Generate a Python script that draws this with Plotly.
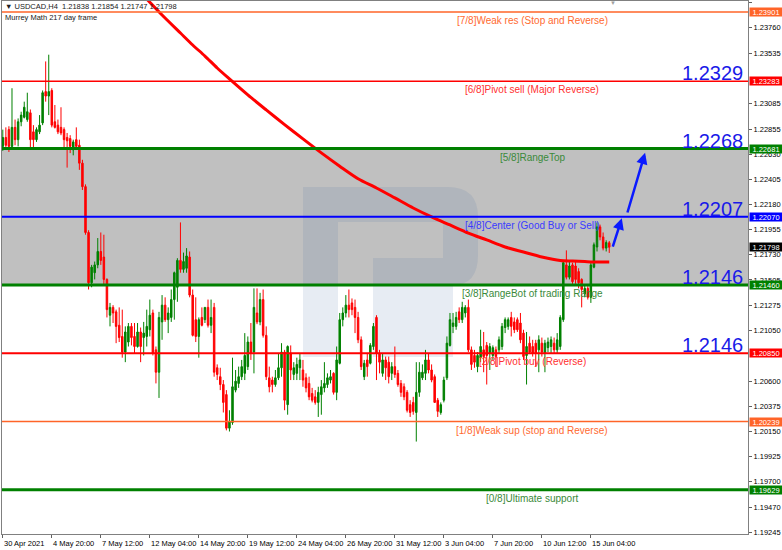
import plotly.graph_objects as go

# ---------------- data ----------------
bar_index = list(range(199))

open_ = [1.2270, 1.2278, 1.2285, 1.2270, 1.2287, 1.2276, 1.2292, 1.2296, 1.2294, 1.2300,
         1.2283, 1.2276, 1.2283, 1.2291, 1.2319, 1.2315, 1.2320, 1.2292, 1.2289, 1.2287,
         1.2285, 1.2278, 1.2277, 1.2267, 1.2276, 1.2271, 1.2255, 1.2234, 1.2193, 1.2148,
         1.2157, 1.2164, 1.2176, 1.2171, 1.2151, 1.2119, 1.2126, 1.2122, 1.2110, 1.2100,
         1.2086, 1.2095, 1.2109, 1.2100, 1.2091, 1.2104, 1.2099, 1.2100, 1.2106, 1.2121,
         1.2088, 1.2068, 1.2113, 1.2128, 1.2115, 1.2117, 1.2133, 1.2144, 1.2168, 1.2160,
         1.2161, 1.2171, 1.2137, 1.2115, 1.2100, 1.2117, 1.2115, 1.2126, 1.2110, 1.2126,
         1.2072, 1.2064, 1.2057, 1.2048, 1.2018, 1.2023, 1.2052, 1.2058, 1.2064, 1.2067,
         1.2073, 1.2095, 1.2086, 1.2121, 1.2113, 1.2133, 1.2101, 1.2063, 1.2061, 1.2057,
         1.2063, 1.2072, 1.2086, 1.2039, 1.2085, 1.2066, 1.2067, 1.2072, 1.2070, 1.2063,
         1.2058, 1.2049, 1.2046, 1.2041, 1.2048, 1.2054, 1.2057, 1.2061, 1.2067, 1.2050,
         1.2076, 1.2115, 1.2121, 1.2128, 1.2130, 1.2126, 1.2117, 1.2097, 1.2064, 1.2079,
         1.2076, 1.2091, 1.2117, 1.2085, 1.2067, 1.2079, 1.2077, 1.2067, 1.2073, 1.2067,
         1.2058, 1.2055, 1.2050, 1.2039, 1.2041, 1.2032, 1.2050, 1.2063, 1.2067, 1.2079,
         1.2070, 1.2064, 1.2043, 1.2032, 1.2043, 1.2063, 1.2092, 1.2109, 1.2109, 1.2122,
         1.2115, 1.2121, 1.2126, 1.2088, 1.2083, 1.2073, 1.2081, 1.2088, 1.2092, 1.2085,
         1.2083, 1.2088, 1.2088, 1.2091, 1.2108, 1.2109, 1.2117, 1.2113, 1.2115, 1.2112,
         1.2103, 1.2083, 1.2094, 1.2091, 1.2094, 1.2088, 1.2094, 1.2085, 1.2090, 1.2091,
         1.2094, 1.2088, 1.2091, 1.2115, 1.2164, 1.2153, 1.2164, 1.2163, 1.2158, 1.2151,
         1.2138, 1.2143, 1.2135, 1.2162, 1.2180, 1.2198, 1.2189, 1.2179, 1.21838]

high = [1.2285, 1.2287, 1.2288, 1.2322, 1.2294, 1.2295, 1.2301, 1.2310, 1.2318, 1.2303,
        1.2289, 1.2287, 1.2298, 1.2320, 1.2346, 1.2352, 1.2322, 1.2307, 1.2294, 1.2305,
        1.2287, 1.2282, 1.2280, 1.2276, 1.2287, 1.2276, 1.2258, 1.2236, 1.2195, 1.2164,
        1.2167, 1.2188, 1.2193, 1.2191, 1.2152, 1.2130, 1.2128, 1.2124, 1.2126, 1.2124,
        1.2109, 1.2112, 1.2112, 1.2112, 1.2112, 1.2108, 1.2113, 1.2124, 1.2133, 1.2124,
        1.2091, 1.2122, 1.2137, 1.2135, 1.2126, 1.2142, 1.2158, 1.2170, 1.2202, 1.2175,
        1.2179, 1.2176, 1.2142, 1.2135, 1.2117, 1.2126, 1.2126, 1.2133, 1.2133, 1.2130,
        1.2075, 1.2072, 1.2061, 1.2052, 1.2034, 1.2081, 1.2070, 1.2073, 1.2079, 1.2103,
        1.2100, 1.2112, 1.2143, 1.2143, 1.2139, 1.2142, 1.2109, 1.2073, 1.2064, 1.2070,
        1.2085, 1.2094, 1.2088, 1.2092, 1.2092, 1.2077, 1.2081, 1.2085, 1.2079, 1.2067,
        1.2064, 1.2054, 1.2052, 1.2055, 1.2061, 1.2077, 1.2067, 1.2070, 1.2068, 1.2091,
        1.2121, 1.2126, 1.2137, 1.2142, 1.2134, 1.2133, 1.2122, 1.2100, 1.2079, 1.2085,
        1.2094, 1.2112, 1.2119, 1.2088, 1.2085, 1.2082, 1.2082, 1.2077, 1.2091, 1.2070,
        1.2061, 1.2058, 1.2052, 1.2043, 1.2046, 1.2077, 1.2077, 1.2075, 1.2088, 1.2085,
        1.2075, 1.2066, 1.2045, 1.2041, 1.2064, 1.2100, 1.2121, 1.2121, 1.2122, 1.2126,
        1.2131, 1.2128, 1.2133, 1.2091, 1.2088, 1.2086, 1.2106, 1.2104, 1.2095, 1.2094,
        1.2092, 1.2091, 1.2100, 1.2112, 1.2117, 1.2117, 1.2122, 1.2117, 1.2117, 1.2121,
        1.2106, 1.2104, 1.2100, 1.2097, 1.2097, 1.2101, 1.2099, 1.2097, 1.2099, 1.2100,
        1.2099, 1.2103, 1.2119, 1.2167, 1.2177, 1.2167, 1.2166, 1.2167, 1.2161, 1.2152,
        1.2146, 1.2145, 1.2166, 1.2184, 1.2202, 1.2200, 1.2193, 1.2186, 1.21854]

low = [1.2266, 1.2267, 1.2265, 1.2268, 1.2271, 1.2270, 1.2288, 1.2295, 1.2292, 1.2267,
       1.2267, 1.2274, 1.2281, 1.2289, 1.2310, 1.2298, 1.2287, 1.2286, 1.2281, 1.2280,
       1.2267, 1.2251, 1.2264, 1.2262, 1.2267, 1.2249, 1.2231, 1.2191, 1.2142, 1.2144,
       1.2151, 1.2161, 1.2164, 1.2146, 1.2117, 1.2109, 1.2112, 1.2094, 1.2095, 1.2081,
       1.2077, 1.2091, 1.2092, 1.2085, 1.2090, 1.2077, 1.2083, 1.2091, 1.2100, 1.2083,
       1.2058, 1.2045, 1.2097, 1.2113, 1.2103, 1.2113, 1.2115, 1.2131, 1.2157, 1.2157,
       1.2157, 1.2135, 1.2100, 1.2095, 1.2081, 1.2109, 1.2112, 1.2108, 1.2103, 1.2064,
       1.2061, 1.2052, 1.2032, 1.2016, 1.2015, 1.2021, 1.2050, 1.2054, 1.2061, 1.2061,
       1.2070, 1.2079, 1.2067, 1.2111, 1.2110, 1.2099, 1.2061, 1.2050, 1.2050, 1.2055,
       1.2061, 1.2064, 1.2034, 1.2030, 1.2061, 1.2061, 1.2061, 1.2061, 1.2055, 1.2050,
       1.2043, 1.2041, 1.2039, 1.2028, 1.2030, 1.2050, 1.2054, 1.2058, 1.2048, 1.2043,
       1.2075, 1.2109, 1.2117, 1.2117, 1.2119, 1.2103, 1.2094, 1.2070, 1.2061, 1.2064,
       1.2075, 1.2088, 1.2061, 1.2067, 1.2064, 1.2061, 1.2058, 1.2061, 1.2063, 1.2055,
       1.2046, 1.2043, 1.2032, 1.2028, 1.2030, 1.2006, 1.2046, 1.2061, 1.2061, 1.2067,
       1.2059, 1.2041, 1.2028, 1.2030, 1.2041, 1.2061, 1.2091, 1.2103, 1.2106, 1.2112,
       1.2112, 1.2117, 1.2086, 1.2070, 1.2072, 1.2068, 1.2077, 1.2068, 1.2057, 1.2070,
       1.2079, 1.2073, 1.2085, 1.2088, 1.2103, 1.2106, 1.2100, 1.2103, 1.2104, 1.2094,
       1.2079, 1.2057, 1.2085, 1.2082, 1.2073, 1.2068, 1.2082, 1.2068, 1.2086, 1.2085,
       1.2085, 1.2085, 1.2088, 1.2113, 1.2151, 1.2151, 1.2147, 1.2147, 1.2143, 1.2126,
       1.2135, 1.2133, 1.2130, 1.2161, 1.2176, 1.2186, 1.2177, 1.2176, 1.21747]

close = [1.2278, 1.2271, 1.2270, 1.2287, 1.2276, 1.2292, 1.2298, 1.2305, 1.2301, 1.2276,
         1.2276, 1.2285, 1.2289, 1.2318, 1.2315, 1.2319, 1.2289, 1.2287, 1.2283, 1.2282,
         1.2276, 1.2275, 1.2270, 1.2274, 1.2270, 1.2255, 1.2234, 1.2193, 1.2148, 1.2162,
         1.2164, 1.2176, 1.2168, 1.2151, 1.2124, 1.2126, 1.2121, 1.2109, 1.2099, 1.2086,
         1.2104, 1.2109, 1.2099, 1.2091, 1.2104, 1.2091, 1.2103, 1.2109, 1.2119, 1.2085,
         1.2068, 1.2117, 1.2128, 1.2115, 1.2121, 1.2133, 1.2157, 1.2168, 1.2160, 1.2167,
         1.2172, 1.2137, 1.2101, 1.2100, 1.2115, 1.2110, 1.2126, 1.2110, 1.2117, 1.2068,
         1.2066, 1.2057, 1.2041, 1.2018, 1.2024, 1.2055, 1.2060, 1.2064, 1.2073, 1.2083,
         1.2095, 1.2085, 1.2126, 1.2113, 1.2133, 1.2101, 1.2064, 1.2055, 1.2057, 1.2063,
         1.2072, 1.2086, 1.2043, 1.2091, 1.2070, 1.2072, 1.2075, 1.2079, 1.2061, 1.2054,
         1.2046, 1.2043, 1.2041, 1.2050, 1.2055, 1.2058, 1.2063, 1.2064, 1.2050, 1.2079,
         1.2115, 1.2121, 1.2128, 1.2124, 1.2124, 1.2117, 1.2097, 1.2073, 1.2076, 1.2073,
         1.2092, 1.2109, 1.2085, 1.2077, 1.2079, 1.2072, 1.2064, 1.2073, 1.2066, 1.2057,
         1.2050, 1.2046, 1.2034, 1.2032, 1.2033, 1.2050, 1.2068, 1.2068, 1.2079, 1.2070,
         1.2061, 1.2041, 1.2033, 1.2039, 1.2061, 1.2094, 1.2115, 1.2112, 1.2117, 1.2115,
         1.2126, 1.2126, 1.2088, 1.2075, 1.2077, 1.2083, 1.2091, 1.2082, 1.2083, 1.2091,
         1.2090, 1.2082, 1.2097, 1.2109, 1.2115, 1.2115, 1.2109, 1.2106, 1.2106, 1.2097,
         1.2082, 1.2091, 1.2086, 1.2085, 1.2085, 1.2097, 1.2086, 1.2094, 1.2095, 1.2097,
         1.2088, 1.2097, 1.2117, 1.2166, 1.2153, 1.2163, 1.2149, 1.2151, 1.2148, 1.2142,
         1.2143, 1.2135, 1.2164, 1.2182, 1.2198, 1.2189, 1.2179, 1.2184, 1.21798]

# 217-period moving average (read at selected bars)
ma_index = [47, 52, 58, 62, 66, 70, 74, 80, 86, 92, 98, 104, 110, 116, 122, 128, 134,
            140, 146, 152, 158, 164, 170, 176, 182, 186, 190, 194, 198]
ma_value = [1.24018, 1.23875, 1.23714, 1.23607, 1.23508, 1.23401, 1.23303, 1.23160,
            1.23026, 1.22895, 1.22767, 1.22642, 1.22523, 1.22411, 1.22328, 1.22239,
            1.22149, 1.22069, 1.21997, 1.21925, 1.21863, 1.21800, 1.21755, 1.21711,
            1.21679, 1.21675, 1.21670, 1.21666, 1.21666]

murrey_levels = [1.23901, 1.23283, 1.22681, 1.22070, 1.21460, 1.20850, 1.20239, 1.19629]
murrey_names = ["[7/8]Weak res (Stop and Reverse)", "[6/8]Pivot sell (Major Reverse)",
                "[5/8]RangeTop", "[4/8]Center (Good Buy or Sell)",
                "[3/8]RangeBot of trading Range", "[2/8]Pivot buy (Reverse)",
                "[1/8]Weak sup (stop and Reverse)", "[0/8]Ultimate support"]
range_top = 1.22681
range_bottom = 1.21460

big_levels = [1.23283, 1.22681, 1.22070, 1.21460, 1.20850]
big_texts = ["1.2329", "1.2268", "1.2207", "1.2146", "1.2146"]

current_price = 1.21798
header_text = "USDCAD,H4&nbsp; 1.21838 1.21854 1.21747 1.21798"
sub_header = "Murrey Math 217 day frame"

ytick_vals = [1.23985, 1.23760, 1.23535, 1.23085, 1.22855, 1.22630, 1.22405, 1.22180,
              1.21955, 1.21730, 1.21505, 1.21275, 1.21050, 1.20600, 1.20375, 1.20150,
              1.19925, 1.19700, 1.19470, 1.19245]
xtick_idx = [0, 16, 32, 48, 64, 80, 96, 112, 128, 144, 160, 176, 192]
xtick_text = ["30 Apr 2021", "4 May 20:00", "7 May 12:00", "12 May 04:00", "14 May 20:00",
              "19 May 12:00", "24 May 04:00", "26 May 20:00", "31 May 12:00",
              "3 Jun 04:00", "7 Jun 20:00", "10 Jun 12:00", "15 Jun 04:00"]

# forecast arrows (bar index, price)
arrow_from_x = [199.0, 203.8]
arrow_from_y = [1.21789, 1.22095]
arrow_to_x = [202.1, 209.7]
arrow_to_y = [1.22057, 1.22643]

# ---------------- styles ----------------
ORANGE = "#ff6428"
RED = "#ff0000"
GREEN = "#008000"
BLUE = "#0000ff"
level_colors = [ORANGE, RED, GREEN, BLUE, GREEN, RED, ORANGE, GREEN]
level_widths = [1.5, 1.5, 3, 2, 3, 2, 1.5, 3]
name_colors = ["#ff6a30", "#ff3030", "#3a8a3a", "#3b3bff", "#3a8a3a", "#ff3030", "#ff6a30", "#3a8a3a"]
FONT = "Liberation Sans, Arial, sans-serif"

W, H = 782, 550
L, R, T, B = 2, 34, 1, 16
PW = W - L - R
PH = H - T - B
Y_TOP = 1.240003
Y_BOT = 1.192331
X_LO = -0.26
X_HI = 243.3


def px(xp):
    return (xp - L) / PW


def py(yp):
    return (T + PH - yp) / PH


fig = go.Figure()

fig.add_trace(go.Candlestick(
    x=bar_index, open=open_, high=high, low=low, close=close,
    increasing=dict(line=dict(color=GREEN, width=1), fillcolor=GREEN),
    decreasing=dict(line=dict(color=RED, width=1), fillcolor=RED),
    whiskerwidth=0, showlegend=False, hoverinfo="skip",
))

fig.add_trace(go.Scatter(
    x=ma_index, y=ma_value, mode="lines",
    line=dict(color="#ff0000", width=3, shape="spline", smoothing=0.8),
    showlegend=False, hoverinfo="skip",
))

shapes = []
# gray trading range band
shapes.append(dict(type="rect", xref="paper", x0=0, x1=1, yref="y",
                   y0=range_bottom, y1=range_top, fillcolor="#c0c0c0",
                   line=dict(width=0), layer="below"))

# watermark logo (decorative, pixel geometry)
pts = ("M {a} {b} L {c} {b} Q {d} {b} {d} {e} L {d} {f} Q {d} {g} {h} {g} "
       "L {h} {i} L {j} {i} L {j} {k} L {l} {k} L {l} {m} L {n} {m} L {n} {i} L {a} {i} Z")
path = pts.format(a=px(303), b=py(187), c=px(448), d=px(478), e=py(217), f=py(255),
                  g=py(285), h=px(453), i=py(357), j=px(373), k=py(258), l=px(443),
                  m=py(222), n=px(338))
shapes.append(dict(type="path", xref="paper", yref="paper", path=path,
                   fillcolor="rgba(67,111,161,0.13)", line=dict(width=0), layer="below"))

for lv, col, lw in zip(murrey_levels, level_colors, level_widths):
    shapes.append(dict(type="line", xref="paper", x0=0, x1=1, yref="y", y0=lv, y1=lv,
                       line=dict(color=col, width=lw), layer="above"))

annotations = []
for lv, name, col in zip(murrey_levels, murrey_names, name_colors):
    annotations.append(dict(xref="paper", x=px(532), yref="y", y=lv, text=name,
                            showarrow=False, xanchor="center", yanchor="top", yshift=-1,
                            font=dict(family=FONT, size=10, color=col)))

for lv, txt in zip(big_levels, big_texts):
    annotations.append(dict(xref="paper", x=px(745), yref="y", y=lv, text=txt,
                            showarrow=False, xanchor="right", yanchor="bottom", yshift=-5,
                            font=dict(family=FONT, size=20, color="#1a1ae8")))

# price boxes on the right axis
box_levels = murrey_levels + [current_price]
box_colors = level_colors + ["#000000"]
for lv, col in zip(box_levels, box_colors):
    annotations.append(dict(xref="paper", x=1, yref="y", y=lv, text=f"{lv:.5f}",
                            showarrow=False, xanchor="left", yanchor="middle", xshift=0.5,
                            bgcolor=col, borderpad=0, width=32, height=8, align="center",
                            font=dict(family=FONT, size=7.5, color="#ffffff")))

# x-axis labels (left-aligned at their tick like the terminal)
for xi, txt in zip(xtick_idx, xtick_text):
    annotations.append(dict(xref="x", x=xi, yref="paper", y=0, text=txt, showarrow=False,
                            xanchor="left", yanchor="top", yshift=-3, xshift=-1,
                            font=dict(family=FONT, size=7.5, color="#000000")))

# header
annotations.append(dict(xref="paper", x=px(3), yref="paper", y=py(7), text="▼ " + header_text,
                        showarrow=False, xanchor="left", yanchor="middle",
                        font=dict(family=FONT, size=7.5, color="#202020")))
annotations.append(dict(xref="paper", x=px(3), yref="paper", y=py(17.5), text=sub_header,
                        showarrow=False, xanchor="left", yanchor="middle",
                        font=dict(family=FONT, size=7.5, color="#202020")))
annotations.append(dict(xref="paper", x=px(613), yref="paper", y=py(3), text="▼",
                        showarrow=False, xanchor="center", yanchor="middle",
                        font=dict(family=FONT, size=6, color="#a0a0a0")))

# forecast arrows
for x0, y0, x1, y1 in zip(arrow_from_x, arrow_from_y, arrow_to_x, arrow_to_y):
    annotations.append(dict(x=x1, y=y1, xref="x", yref="y", ax=x0, ay=y0, axref="x", ayref="y",
                            text="", showarrow=True, arrowhead=2, arrowsize=0.9, arrowwidth=2.5,
                            arrowcolor="#0a1aff", standoff=0))

fig.update_layout(
    width=W, height=H,
    margin=dict(l=L, r=R, t=T, b=B, autoexpand=False),
    paper_bgcolor="#ffffff", plot_bgcolor="#ffffff",
    shapes=shapes, annotations=annotations,
    showlegend=False,
    font=dict(family=FONT, size=7.5, color="#000000"),
    xaxis=dict(range=[X_LO, X_HI], showgrid=False, zeroline=False, rangeslider=dict(visible=False),
               tickmode="array", tickvals=xtick_idx, showticklabels=False, automargin=False,
               ticks="outside", ticklen=3, tickcolor="#606060",
               showline=True, mirror=True, linecolor="#808080", linewidth=1),
    yaxis=dict(range=[Y_BOT, Y_TOP], side="right", showgrid=False, zeroline=False, automargin=False,
               tickmode="array", tickvals=ytick_vals, ticktext=[f"{v:.5f}" for v in ytick_vals],
               ticks="outside", ticklen=3, tickcolor="#606060",
               tickfont=dict(family=FONT, size=7.5, color="#000000"),
               showline=True, mirror=True, linecolor="#808080", linewidth=1),
)

fig.write_html("out.html", config={"displayModeBar": False},
               post_script="document.body.style.margin='0';document.body.style.overflow='hidden';")
